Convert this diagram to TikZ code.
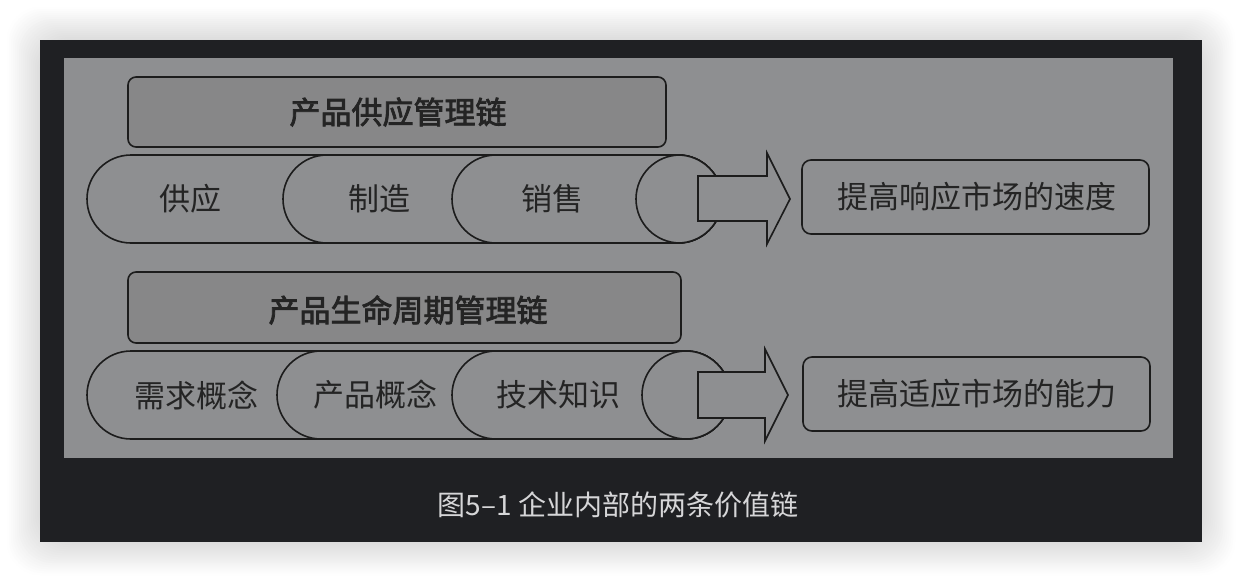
\documentclass[tikz,border=0pt]{standalone}
\usepackage{fontspec}
\newfontfamily\cjk{Noto Sans CJK SC}
\newfontfamily\cjkb{Noto Sans CJK SC}[FakeBold=2.5]
\definecolor{darkbg}{HTML}{1F2023}
\definecolor{panel}{HTML}{8E8F91}
\definecolor{titlefill}{HTML}{878788}
\definecolor{ink}{HTML}{1C1C1C}
\definecolor{txt}{HTML}{242424}
\definecolor{captxt}{HTML}{D6D6D8}
\tikzset{
  x=1pt,y=-1pt,
  capsule/.style={draw=ink,line width=1.6pt,fill=panel,rounded corners=44pt},
  titlebox/.style={draw=ink,line width=1.6pt,fill=titlefill,rounded corners=8pt},
  resbox/.style={draw=ink,line width=1.6pt,fill=panel,rounded corners=9pt},
  blockarrow/.style={draw=ink,line width=1.6pt,fill=panel,line join=miter},
  lbl/.style={text=txt,font=\cjk\fontsize{31}{34}\selectfont,inner sep=0pt},
  tlbl/.style={text=txt,font=\cjkb\fontsize{31}{34}\selectfont,inner sep=0pt},
}
\begin{document}
\begin{tikzpicture}
\useasboundingbox (0,0) rectangle (1242,582);
\fill[white] (0,0) rectangle (1242,582);
% soft shadow
\foreach \k in {0,1,...,16}{
  \pgfmathsetmacro\off{33-2*\k}
  \pgfmathsetmacro\shd{0.5+0.8*\k}
  \fill[black!\shd,rounded corners=34pt] (40-\off,40-\off) rectangle (1202+\off,542+\off);
}
\fill[darkbg] (40,40) rectangle (1202,542);
\fill[panel] (64,58) rectangle (1173,458);

% ---- row 1 ----
\draw[titlebox] (128,77) rectangle (666,147);
\node[tlbl] (t1) at (398,112) {产品供应管理链};
\draw[capsule] (87,155) rectangle (722,243);
\draw[capsule] (283,155) rectangle (722,243);
\draw[capsule] (452,155) rectangle (722,243);
\draw[capsule] (636,155) rectangle (722,243);
\node[lbl] (a1) at (190,199) {供应};
\node[lbl] (a2) at (379,199) {制造};
\node[lbl] (a3) at (552,199) {销售};
\draw[blockarrow] (698,176) -- (767,176) -- (767,153) -- (790,199) -- (767,244) -- (767,221) -- (698,221) -- cycle;
\draw[resbox] (802,160) rectangle (1149,234);
\node[lbl] (r1) at (977,197) {提高响应市场的速度};

% ---- row 2 ----
\draw[titlebox] (128,272) rectangle (681,343);
\node[tlbl] (t2) at (408,310) {产品生命周期管理链};
\draw[capsule] (87,351) rectangle (730,439);
\draw[capsule] (277,351) rectangle (730,439);
\draw[capsule] (452,351) rectangle (730,439);
\draw[capsule] (642,351) rectangle (730,439);
\node[lbl] (b1) at (196,395) {需求概念};
\node[lbl] (b2) at (375,395) {产品概念};
\node[lbl] (b3) at (558,395) {技术知识};
\draw[blockarrow] (698,372) -- (765,372) -- (765,349) -- (788,395) -- (765,441) -- (765,418) -- (698,418) -- cycle;
\draw[resbox] (803,357) rectangle (1150,431);
\node[lbl] (r2) at (977,394) {提高适应市场的能力};

% caption
\node[text=captxt,font=\cjk\fontsize{28}{32}\selectfont,inner sep=0pt] (cap) at (618,505) {图5–1 企业内部的两条价值链};
\end{tikzpicture}
\end{document}
